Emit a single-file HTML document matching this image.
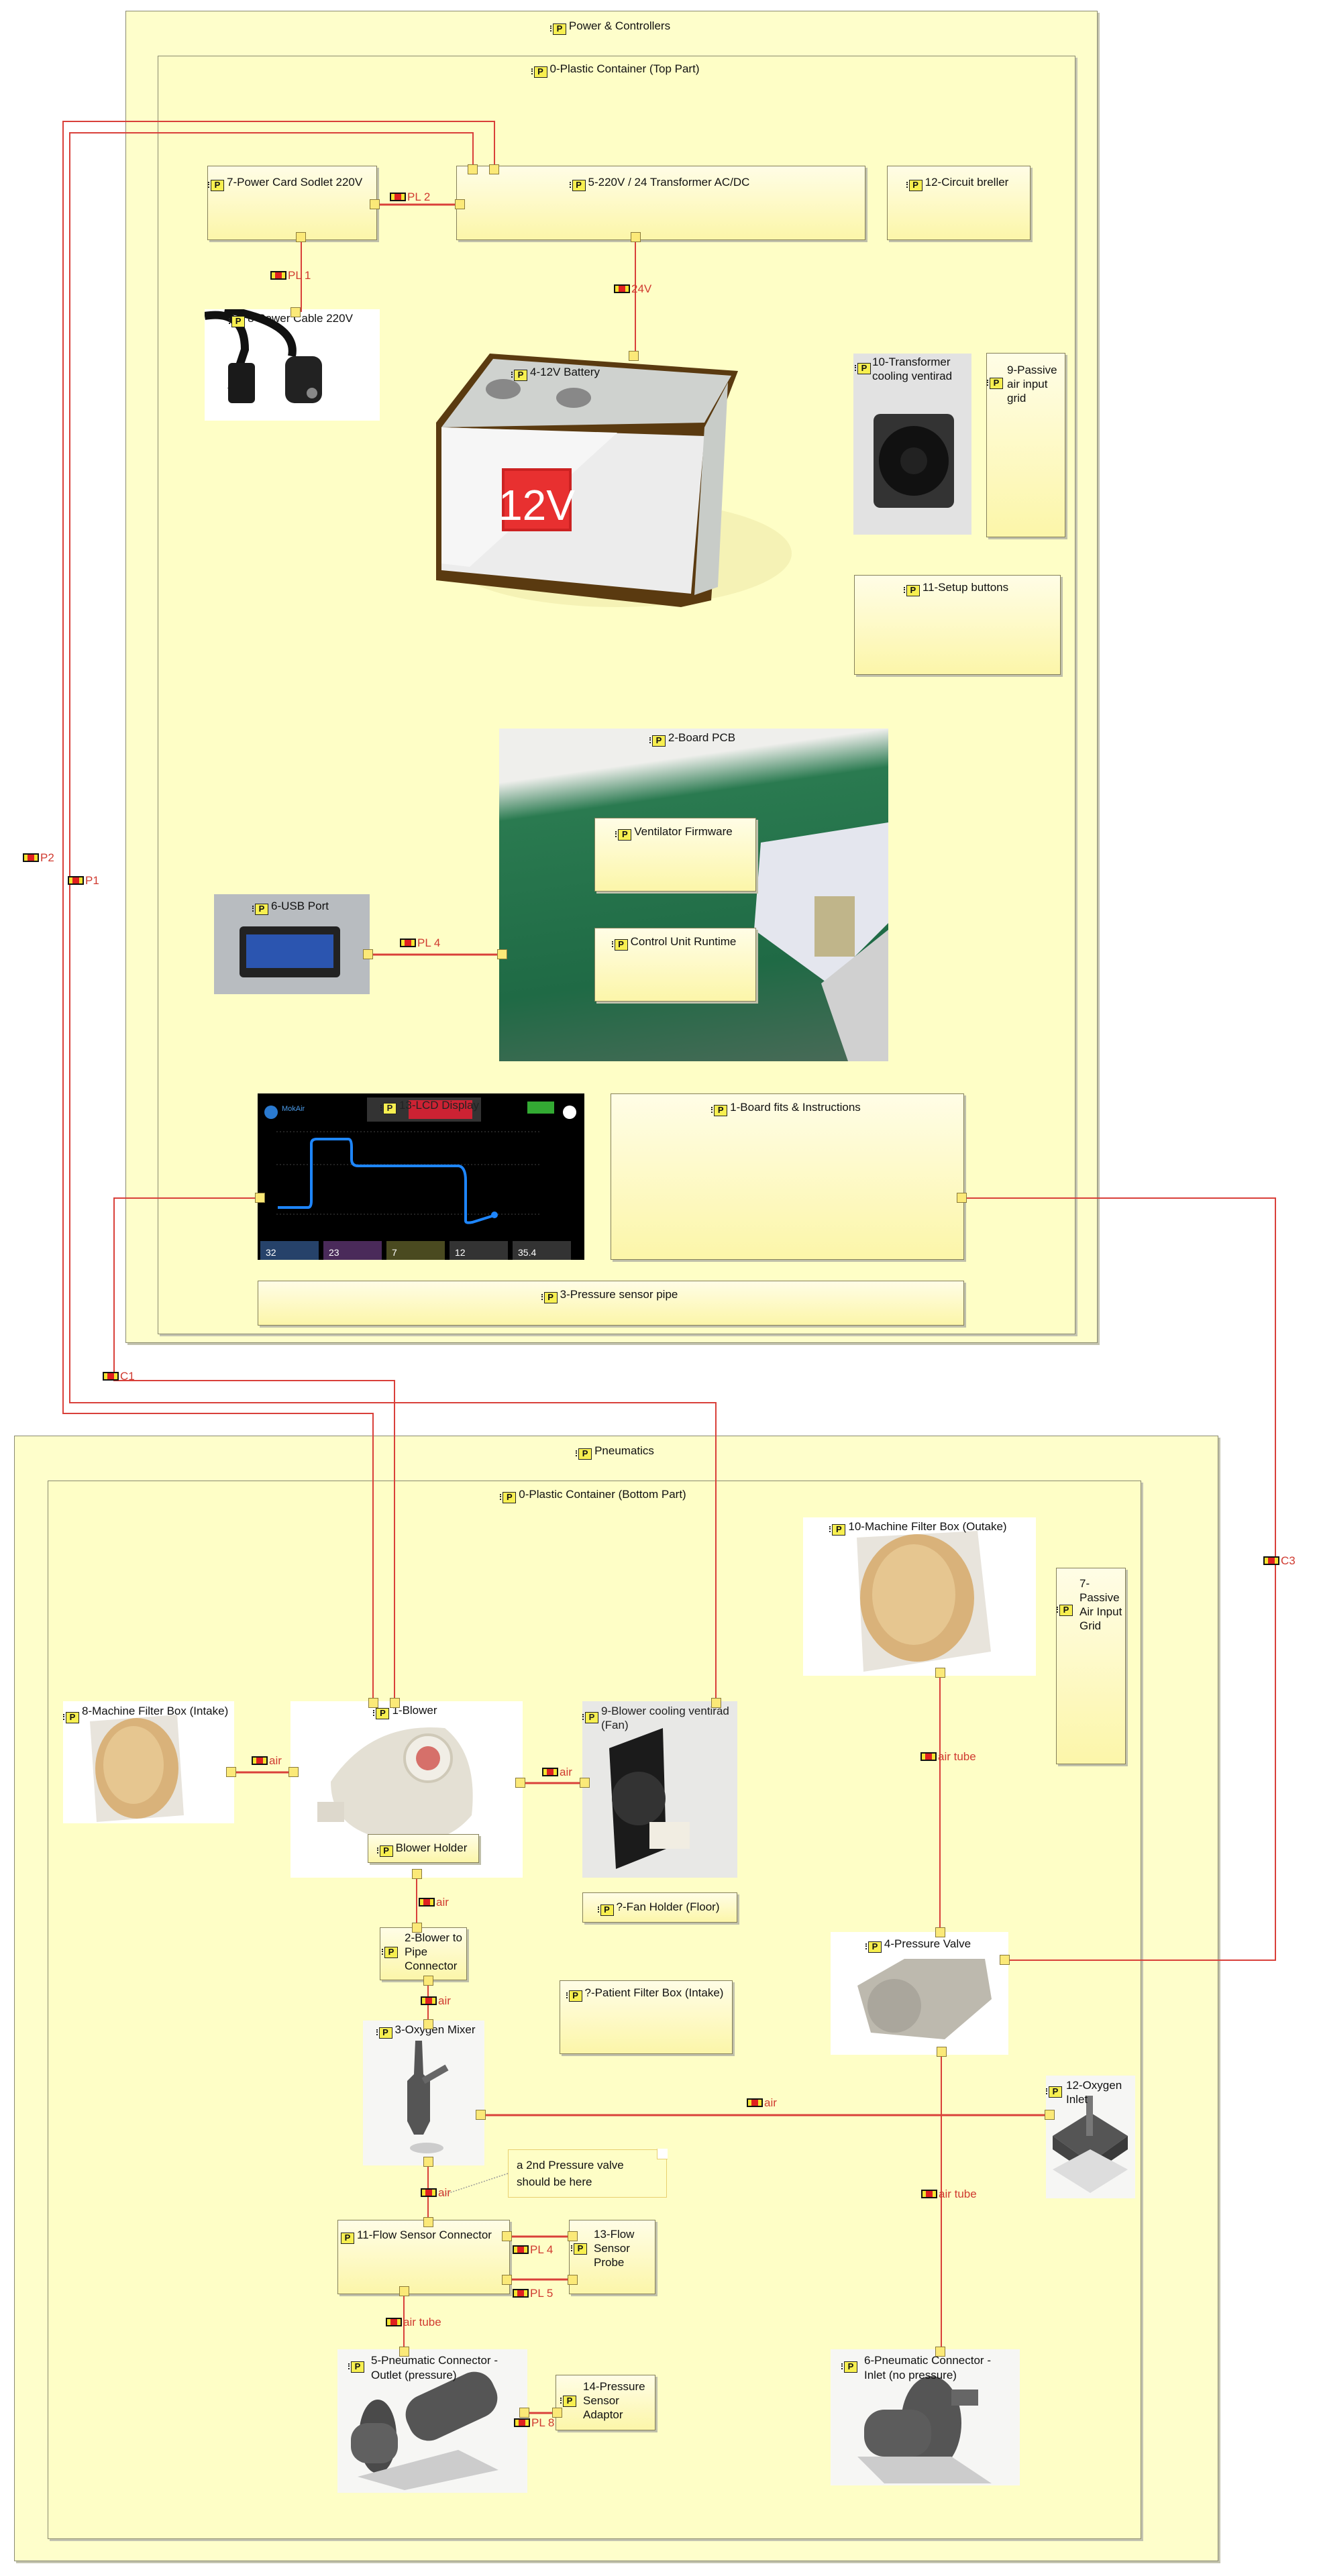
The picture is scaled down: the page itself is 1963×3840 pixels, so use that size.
<!DOCTYPE html>
<html><head><meta charset="utf-8"><style>
*{box-sizing:border-box;margin:0;padding:0}
body{width:1963px;height:3840px;background:#fff;position:relative;overflow:hidden;font-family:"Liberation Sans",sans-serif;font-size:17px;color:#111}
.ab{position:absolute}
.ctr{position:absolute;background:#fefecb;border:1.5px solid #8a8a70;box-shadow:3px 3px 0 #c4c4b0}
.cmp{position:absolute;border:1.5px solid #85805a;background:linear-gradient(#fffde6,#fcf6a9);box-shadow:3px 3px 0 #c0c0aa}
.img{position:absolute;overflow:hidden}
.lbl{position:absolute;left:0;right:0;text-align:center;white-space:nowrap;line-height:20px}
.pi{display:inline-block;width:20px;height:17px;border:1.5px solid #222;background:#f7ef50;font:bold 13px "Liberation Sans",sans-serif;line-height:14px;text-align:center;vertical-align:-3px;margin-right:4px;position:relative}
.pi:before{content:"";position:absolute;left:-5px;top:2px;width:4px;height:9px;border-left:2px dotted #222}
.port{position:absolute;width:15px;height:15px;background:#fbe978;border:1.5px solid #8a7a3a}
.cn{position:absolute;color:#d03a30;font-size:17px;white-space:nowrap;line-height:18px}
.cn i{display:inline-block;width:24px;height:13px;border:2px solid #111;background:linear-gradient(90deg,#f4e430 0 25%,#e02020 25% 75%,#f4e430 75%);vertical-align:-1px;margin-right:2px}
</style></head><body>
<svg class="ab" style="left:0;top:0;z-index:5" width="1963" height="3840">
<g fill="none" stroke="#d9403a" stroke-width="2">
<polyline points="556,2539 556,2107 94,2107 94,181 737,181 737,252"/>
<polyline points="1067,2539 1067,2091 104,2091 104,198 705,198 705,252"/>
<polyline points="388,1786 170,1786 170,2058 588,2058 588,2539"/>
<polyline points="1433,1786 1901,1786 1901,2922 1497,2922"/>
<line x1="562" y1="305" x2="685" y2="305" stroke-width="3"/>
<line x1="449" y1="359" x2="449" y2="465"/>
<line x1="947" y1="359" x2="947" y2="531"/>
<line x1="548" y1="1423" x2="749" y2="1423" stroke-width="3"/>
<line x1="344" y1="2642" x2="437" y2="2642" stroke-width="3"/>
<line x1="775" y1="2658" x2="871" y2="2658" stroke-width="3"/>
<line x1="1401" y1="2498" x2="1401" y2="2880"/>
<line x1="621" y1="2799" x2="621" y2="2873"/>
<line x1="638" y1="2952" x2="638" y2="3014"/>
<line x1="722" y1="3153" x2="1559" y2="3153" stroke-width="3"/>
<line x1="638" y1="3228" x2="638" y2="3309"/>
<line x1="760" y1="3334" x2="848" y2="3334" stroke-width="3"/>
<line x1="760" y1="3398" x2="848" y2="3398" stroke-width="3"/>
<line x1="602" y1="3420" x2="602" y2="3502"/>
<line x1="1403" y1="3063" x2="1403" y2="3502"/>
<line x1="786" y1="3597" x2="828" y2="3597" stroke-width="3"/>
</g>
<line x1="757" y1="3240" x2="660" y2="3272" stroke="#999" stroke-width="1.5" stroke-dasharray="2,2"/>
</svg>

<div class="ctr" style="left:187px;top:16px;width:1449px;height:1986px"><div class="lbl" style="top:12px"><span class="pi">P</span>Power &amp; Controllers</div></div>
<div class="ctr" style="left:235px;top:83px;width:1368px;height:1906px;background:#fefec6"><div class="lbl" style="top:9px"><span class="pi">P</span>0-Plastic Container (Top Part)</div></div>

<div class="cmp" style="left:309px;top:247px;width:253px;height:111px"><div class="lbl" style="top:14px;text-align:left;left:4px"><span class="pi">P</span>7-Power Card Sodlet 220V</div></div>
<div class="cmp" style="left:680px;top:247px;width:610px;height:111px"><div class="lbl" style="top:14px"><span class="pi">P</span>5-220V / 24 Transformer AC/DC</div></div>
<div class="cmp" style="left:1322px;top:247px;width:214px;height:111px"><div class="lbl" style="top:14px"><span class="pi">P</span>12-Circuit breller</div></div>

<div class="img" style="left:305px;top:461px;width:261px;height:166px;background:#fff">
<svg width="261" height="166"><path d="M0,10 Q60,0 60,60 L40,120" stroke="#111" stroke-width="12" fill="none"/><rect x="35" y="80" width="40" height="60" rx="6" fill="#1a1a1a"/><path d="M30,0 Q140,20 130,70" stroke="#111" stroke-width="12" fill="none"/><rect x="120" y="70" width="55" height="70" rx="14" fill="#222"/><circle cx="160" cy="125" r="8" fill="#888"/></svg>
<div class="lbl" style="top:4px"><span class="pi">P</span>8-Power Cable 220V</div></div>

<div class="img" style="left:620px;top:525px;width:570px;height:382px">
<svg width="570" height="382"><ellipse cx="300" cy="300" rx="260" ry="80" fill="#f3efb0" opacity=".8"/>
<polygon points="30,105 110,2 480,28 460,80 440,370 395,380 30,340" fill="#5a3a10"/>
<polygon points="38,112 115,10 470,35 430,105" fill="#cfd2cf"/>
<polygon points="38,112 430,125 410,360 38,325" fill="#ececec"/>
<polygon points="38,112 300,120 80,320 38,315" fill="#f6f6f6"/>
<polygon points="430,112 465,45 450,350 415,362" fill="#c8ccc8"/>
<ellipse cx="130" cy="55" rx="26" ry="15" fill="#888"/><ellipse cx="235" cy="68" rx="26" ry="15" fill="#888"/>
<rect x="130" y="175" width="100" height="90" fill="#e83030" stroke="#c22" stroke-width="4"/>
<text x="180" y="250" fill="#fff" font-family="Liberation Sans" font-size="64" text-anchor="middle">12V</text></svg>
<div class="lbl" style="top:20px;left:-150px"><span class="pi">P</span>4-12V Battery</div></div>

<div class="img" style="left:1272px;top:527px;width:176px;height:270px;background:#d8d8d8">
<svg width="176" height="270"><rect x="0" y="0" width="176" height="270" fill="#e2e2e2"/><rect x="30" y="90" width="120" height="140" rx="10" fill="#333"/><circle cx="90" cy="160" r="52" fill="#111"/><circle cx="90" cy="160" r="20" fill="#222"/></svg>
<div class="lbl" style="top:2px;left:4px;text-align:left;white-space:normal;line-height:21px;padding-left:24px"><span class="pi" style="position:absolute;left:2px;top:12px">P</span>10-Transformer cooling ventirad</div></div>
<div class="cmp" style="left:1470px;top:526px;width:118px;height:275px"><div class="lbl" style="top:14px;text-align:left;left:30px;white-space:normal;line-height:21px"><span class="pi" style="position:absolute;left:-26px;top:22px">P</span>9-Passive air input grid</div></div>
<div class="cmp" style="left:1273px;top:857px;width:308px;height:149px"><div class="lbl" style="top:8px"><span class="pi">P</span>11-Setup buttons</div></div>

<div class="img" style="left:744px;top:1086px;width:580px;height:496px;background:linear-gradient(172deg,#efefec 0 14%,#2a7a50 24%,#1f6a45 70%,#4a6a58)">
<svg width="580" height="496" style="position:absolute;left:0;top:0"><polygon points="390,170 580,140 580,290 490,380 380,300" fill="#e4e6ee"/><polygon points="480,380 580,300 580,496 520,496" fill="#d0d0d0"/><rect x="470" y="250" width="60" height="90" fill="#b0a060" opacity=".7"/></svg>
<div class="lbl" style="top:4px;color:#111"><span class="pi">P</span>2-Board PCB</div></div>
<div class="cmp" style="left:886px;top:1219px;width:241px;height:110px"><div class="lbl" style="top:10px"><span class="pi">P</span>Ventilator Firmware</div></div>
<div class="cmp" style="left:886px;top:1383px;width:241px;height:110px"><div class="lbl" style="top:10px"><span class="pi">P</span>Control Unit Runtime</div></div>

<div class="img" style="left:319px;top:1333px;width:232px;height:149px;background:#b8bcc0">
<svg width="232" height="149"><rect x="38" y="48" width="150" height="76" rx="6" fill="#222"/><rect x="48" y="60" width="130" height="50" fill="#2b55b0"/></svg>
<div class="lbl" style="top:8px"><span class="pi">P</span>6-USB Port</div></div>

<div class="img" style="left:384px;top:1630px;width:487px;height:248px;background:#000">
<svg width="487" height="248"><circle cx="20" cy="28" r="10" fill="#2a7ad0"/><text x="36" y="26" fill="#4a9ae8" font-size="11" font-family="Liberation Sans">MokAir</text>
<rect x="163" y="6" width="170" height="36" fill="#333"/><rect x="225" y="10" width="95" height="28" fill="#c23"/><rect x="402" y="12" width="40" height="18" fill="#3a3"/><circle cx="465" cy="28" r="10" fill="#fff"/>
<g stroke="#444" stroke-dasharray="2,3"><line x1="28" y1="57" x2="420" y2="57"/><line x1="28" y1="106" x2="420" y2="106"/><line x1="28" y1="180" x2="420" y2="180"/></g>
<path d="M30,170 L75,170 Q80,170 80,160 L80,75 Q80,68 88,68 L135,68 Q140,68 140,80 L140,98 Q140,108 150,108 L300,108 Q310,110 310,130 L310,190 Q310,194 320,192 L352,182" stroke="#1e86ff" stroke-width="4" fill="none"/><circle cx="353" cy="181" r="5" fill="#1e86ff"/>
<rect x="4" y="220" width="87" height="28" fill="#26426a"/><rect x="98" y="220" width="87" height="28" fill="#4a2a5a"/><rect x="192" y="220" width="87" height="28" fill="#4a4a20"/><rect x="286" y="220" width="87" height="28" fill="#333"/><rect x="380" y="220" width="87" height="28" fill="#333"/>
<g fill="#fff" font-size="14" font-family="Liberation Sans"><text x="12" y="242">32</text><text x="106" y="242">23</text><text x="200" y="242">7</text><text x="294" y="242">12</text><text x="388" y="242">35.4</text></g></svg>
<div class="lbl" style="top:8px;left:30px;color:#222"><span class="pi">P</span>13-LCD Display</div></div>
<div class="cmp" style="left:910px;top:1630px;width:527px;height:248px"><div class="lbl" style="top:10px"><span class="pi">P</span>1-Board fits &amp; Instructions</div></div>
<div class="cmp" style="left:384px;top:1909px;width:1053px;height:67px"><div class="lbl" style="top:10px"><span class="pi">P</span>3-Pressure sensor pipe</div></div>

<div class="ctr" style="left:21px;top:2140px;width:1795px;height:1678px"><div class="lbl" style="top:12px"><span class="pi">P</span>Pneumatics</div></div>
<div class="ctr" style="left:71px;top:2207px;width:1630px;height:1578px;background:#fefec6"><div class="lbl" style="top:10px"><span class="pi">P</span>0-Plastic Container (Bottom Part)</div></div>

<div class="img" style="left:1197px;top:2262px;width:347px;height:236px;background:#fff">
<svg width="347" height="236"><polygon points="80,30 260,20 280,200 90,230" fill="#e8e4dc"/><ellipse cx="170" cy="120" rx="85" ry="95" fill="#d9b27a"/><ellipse cx="165" cy="115" rx="62" ry="75" fill="#e6c690"/></svg>
<div class="lbl" style="top:4px"><span class="pi">P</span>10-Machine Filter Box (Outake)</div></div>
<div class="cmp" style="left:1574px;top:2337px;width:104px;height:293px"><div class="lbl" style="top:12px;text-align:left;left:34px;white-space:normal;line-height:21px"><span class="pi" style="position:absolute;left:-30px;top:42px">P</span>7-Passive Air Input Grid</div></div>

<div class="img" style="left:94px;top:2536px;width:255px;height:182px;background:#fff">
<svg width="255" height="182"><polygon points="40,30 170,20 180,170 50,180" fill="#e8e4dc"/><ellipse cx="110" cy="100" rx="62" ry="75" fill="#d9b27a"/><ellipse cx="105" cy="95" rx="45" ry="58" fill="#e6c690"/></svg>
<div class="lbl" style="top:4px;left:24px;text-align:left;white-space:normal;line-height:21px;padding-left:4px"><span class="pi" style="position:absolute;left:-20px;top:12px">P</span>8-Machine Filter Box (Intake)</div></div>
<div class="img" style="left:433px;top:2536px;width:346px;height:263px;background:#fff">
<svg width="346" height="263"><path d="M60,120 Q120,30 230,40 Q280,80 270,170 Q220,230 120,200 Q60,180 60,120Z" fill="#e4e0d4"/><circle cx="205" cy="85" r="35" fill="#f1eee6" stroke="#cfc9b8" stroke-width="4"/><circle cx="205" cy="85" r="18" fill="#d6706a"/><rect x="40" y="150" width="40" height="30" fill="#ddd8cc"/></svg>
<div class="lbl" style="top:4px"><span class="pi">P</span>1-Blower</div></div>
<div class="cmp" style="left:548px;top:2734px;width:166px;height:43px"><div class="lbl" style="top:10px"><span class="pi">P</span>Blower Holder</div></div>
<div class="img" style="left:868px;top:2536px;width:231px;height:263px;background:#e8e8e6">
<svg width="231" height="263"><polygon points="40,70 120,40 125,220 50,250" fill="#1b1b1b"/><circle cx="84" cy="145" r="40" fill="#333"/><rect x="100" y="180" width="60" height="40" fill="#f1ede2"/></svg>
<div class="lbl" style="top:4px;left:28px;text-align:left;white-space:normal;line-height:21px;color:#222"><span class="pi" style="position:absolute;left:-24px;top:12px">P</span>9-Blower cooling ventirad (Fan)</div></div>
<div class="cmp" style="left:868px;top:2821px;width:231px;height:45px"><div class="lbl" style="top:11px"><span class="pi">P</span>?-Fan Holder (Floor)</div></div>

<div class="cmp" style="left:566px;top:2873px;width:130px;height:79px"><div class="lbl" style="top:4px;left:36px;text-align:left;white-space:normal;line-height:21px"><span class="pi" style="position:absolute;left:-30px;top:24px">P</span>2-Blower to Pipe Connector</div></div>
<div class="img" style="left:1238px;top:2880px;width:265px;height:183px;background:#fff">
<svg width="265" height="183"><polygon points="40,80 110,40 230,40 240,100 170,160 60,150" fill="#bdb9ae"/><ellipse cx="95" cy="110" rx="40" ry="40" fill="#aaa69c"/></svg>
<div class="lbl" style="top:8px"><span class="pi">P</span>4-Pressure Valve</div></div>
<div class="cmp" style="left:834px;top:2952px;width:258px;height:110px"><div class="lbl" style="top:8px"><span class="pi">P</span>?-Patient Filter Box (Intake)</div></div>

<div class="img" style="left:541px;top:3012px;width:181px;height:216px;background:#f6f6f4">
<svg width="181" height="216"><path d="M78,30 L88,30 L90,80 L100,90 L100,150 L90,170 L76,170 L66,150 L66,90 L76,80Z" fill="#555"/><line x1="90" y1="90" x2="125" y2="70" stroke="#666" stroke-width="10"/><ellipse cx="95" cy="190" rx="25" ry="8" fill="#ccc"/></svg>
<div class="lbl" style="top:4px;left:10px"><span class="pi">P</span>3-Oxygen Mixer</div></div>
<div class="img" style="left:1559px;top:3094px;width:133px;height:183px;background:#f6f6f4">
<svg width="133" height="183"><polygon points="10,90 66,55 122,90 66,130" fill="#555"/><polygon points="10,90 66,130 66,148 10,110" fill="#444"/><polygon points="122,90 66,130 66,148 122,110" fill="#3a3a3a"/><rect x="60" y="30" width="10" height="60" fill="#777"/><polygon points="10,140 66,110 122,140 66,175" fill="#ddd"/></svg>
<div class="lbl" style="top:4px;left:30px;text-align:left;white-space:normal;line-height:21px"><span class="pi" style="position:absolute;left:-26px;top:12px">P</span>12-Oxygen Inlet</div></div>
<div class="ab" style="left:757px;top:3204px;width:237px;height:72px;background:#fefec6;border:1.5px solid #e8d070"><div class="ab" style="left:12px;top:10px;line-height:25px;font-size:17px">a 2nd Pressure valve<br>should be here</div><div class="ab" style="right:-2px;top:-2px;width:16px;height:16px;background:#fff;border-left:1.5px solid #e8d070;border-bottom:1.5px solid #e8d070"></div></div>

<div class="cmp" style="left:503px;top:3309px;width:257px;height:111px"><div class="lbl" style="top:12px;text-align:left;left:4px;overflow:hidden;right:8px"><span class="pi">P</span>11-Flow Sensor Connector</div></div>
<div class="cmp" style="left:848px;top:3309px;width:129px;height:111px"><div class="lbl" style="top:10px;left:36px;text-align:left;white-space:normal;line-height:21px"><span class="pi" style="position:absolute;left:-30px;top:24px">P</span>13-Flow Sensor Probe</div></div>

<div class="img" style="left:503px;top:3502px;width:283px;height:214px;background:#f6f6f4">
<svg width="283" height="214"><rect x="100" y="50" width="140" height="70" rx="30" fill="#555" transform="rotate(-25 170 85)"/><ellipse cx="60" cy="130" rx="28" ry="55" fill="#4a4a4a"/><rect x="20" y="110" width="70" height="60" rx="25" fill="#606060"/><polygon points="30,190 180,150 240,180 100,210" fill="#ccc"/></svg>
<div class="lbl" style="top:6px;left:50px;text-align:left;white-space:normal;line-height:22px;width:200px"><span class="pi" style="position:absolute;left:-30px;top:12px">P</span>5-Pneumatic Connector - Outlet (pressure)</div></div>
<div class="cmp" style="left:828px;top:3540px;width:149px;height:83px"><div class="lbl" style="top:6px;left:40px;text-align:left;white-space:normal;line-height:21px"><span class="pi" style="position:absolute;left:-30px;top:24px">P</span>14-Pressure Sensor Adaptor</div></div>
<div class="img" style="left:1238px;top:3502px;width:282px;height:203px;background:#f6f6f4">
<svg width="282" height="203"><ellipse cx="150" cy="110" rx="45" ry="70" fill="#555"/><rect x="50" y="90" width="100" height="70" rx="30" fill="#5c5c5c"/><rect x="180" y="60" width="40" height="24" fill="#666"/><polygon points="40,160 180,160 240,200 80,200" fill="#ccc"/></svg>
<div class="lbl" style="top:6px;left:50px;text-align:left;white-space:normal;line-height:22px;width:210px"><span class="pi" style="position:absolute;left:-30px;top:12px">P</span>6-Pneumatic Connector - Inlet (no pressure)</div></div>

<div style="position:absolute;left:0;top:0;z-index:6">
<div class="port" style="left:551px;top:297px"></div>
<div class="port" style="left:678px;top:297px"></div>
<div class="port" style="left:697px;top:245px"></div>
<div class="port" style="left:729px;top:245px"></div>
<div class="port" style="left:441px;top:346px"></div>
<div class="port" style="left:433px;top:458px"></div>
<div class="port" style="left:940px;top:346px"></div>
<div class="port" style="left:937px;top:523px"></div>
<div class="port" style="left:541px;top:1415px"></div>
<div class="port" style="left:741px;top:1415px"></div>
<div class="port" style="left:380px;top:1778px"></div>
<div class="port" style="left:1426px;top:1778px"></div>
<div class="port" style="left:549px;top:2531px"></div>
<div class="port" style="left:581px;top:2531px"></div>
<div class="port" style="left:1060px;top:2531px"></div>
<div class="port" style="left:337px;top:2634px"></div>
<div class="port" style="left:430px;top:2634px"></div>
<div class="port" style="left:768px;top:2650px"></div>
<div class="port" style="left:864px;top:2650px"></div>
<div class="port" style="left:1394px;top:2486px"></div>
<div class="port" style="left:1394px;top:2873px"></div>
<div class="port" style="left:1490px;top:2914px"></div>
<div class="port" style="left:1396px;top:3051px"></div>
<div class="port" style="left:614px;top:2786px"></div>
<div class="port" style="left:614px;top:2866px"></div>
<div class="port" style="left:631px;top:2945px"></div>
<div class="port" style="left:631px;top:3010px"></div>
<div class="port" style="left:709px;top:3145px"></div>
<div class="port" style="left:1557px;top:3145px"></div>
<div class="port" style="left:631px;top:3215px"></div>
<div class="port" style="left:631px;top:3305px"></div>
<div class="port" style="left:748px;top:3326px"></div>
<div class="port" style="left:748px;top:3391px"></div>
<div class="port" style="left:846px;top:3326px"></div>
<div class="port" style="left:846px;top:3391px"></div>
<div class="port" style="left:595px;top:3408px"></div>
<div class="port" style="left:595px;top:3498px"></div>
<div class="port" style="left:1394px;top:3498px"></div>
<div class="port" style="left:774px;top:3589px"></div>
<div class="port" style="left:823px;top:3589px"></div>
</div>

<div style="position:absolute;left:0;top:0;z-index:7">
<div class="cn" style="left:581px;top:285px"><i></i>PL 2</div>
<div class="cn" style="left:403px;top:402px"><i></i>PL 1</div>
<div class="cn" style="left:915px;top:422px"><i></i>24V</div>
<div class="cn" style="left:34px;top:1270px"><i></i>P2</div>
<div class="cn" style="left:101px;top:1304px"><i></i>P1</div>
<div class="cn" style="left:596px;top:1397px"><i></i>PL 4</div>
<div class="cn" style="left:153px;top:2043px"><i></i>C1</div>
<div class="cn" style="left:1883px;top:2318px"><i></i>C3</div>
<div class="cn" style="left:375px;top:2616px"><i></i>air</div>
<div class="cn" style="left:808px;top:2633px"><i></i>air</div>
<div class="cn" style="left:1372px;top:2610px"><i></i>air tube</div>
<div class="cn" style="left:624px;top:2827px"><i></i>air</div>
<div class="cn" style="left:627px;top:2974px"><i></i>air</div>
<div class="cn" style="left:1113px;top:3126px"><i></i>air</div>
<div class="cn" style="left:627px;top:3260px"><i></i>air</div>
<div class="cn" style="left:1373px;top:3262px"><i></i>air tube</div>
<div class="cn" style="left:764px;top:3345px"><i></i>PL 4</div>
<div class="cn" style="left:764px;top:3410px"><i></i>PL 5</div>
<div class="cn" style="left:575px;top:3453px"><i></i>air tube</div>
<div class="cn" style="left:766px;top:3603px"><i></i>PL 8</div>
</div>
</body></html>
